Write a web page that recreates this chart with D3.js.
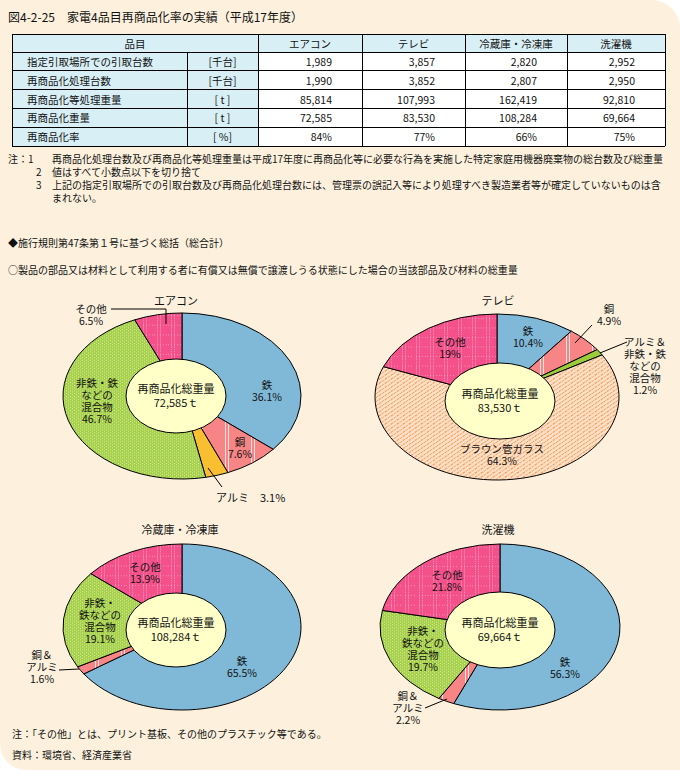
<!DOCTYPE html>
<html lang="ja">
<head>
<meta charset="utf-8">
<script src="https://cdn.jsdelivr.net/npm/d3@7/dist/d3.min.js"></script>
<style>
  html, body { margin: 0; padding: 0; background: #fff; }
  svg { display: block; font-family: "Noto Sans CJK JP", sans-serif; }
</style>
</head>
<body>
<div id="chart"></div>
<script>
// table
const tableCols = ["エアコン", "テレビ", "冷蔵庫・冷凍庫", "洗濯機"];
const tableRows = ["指定引取場所での引取台数", "再商品化処理台数", "再商品化等処理重量", "再商品化重量", "再商品化率"];
const tableUnits = ["[千台]", "[千台]", "[ t ]", "[ t ]", "[ %]"];
const tableValues = [
  [1989, 3857, 2820, 2952],
  [1990, 3852, 2807, 2950],
  [85814, 107993, 162419, 92810],
  [72585, 83530, 108284, 69664],
  [84, 77, 66, 75]
];

// donuts (share of 再商品化重量, %)
const airconParts = ["鉄", "銅", "アルミ", "非鉄・鉄\nなどの\n混合物", "その他"];
const airconShares = [36.1, 7.6, 3.1, 46.7, 6.5];
const tvParts = ["鉄", "銅", "アルミ＆\n非鉄・鉄\nなどの\n混合物", "ブラウン管ガラス", "その他"];
const tvShares = [10.4, 4.9, 1.2, 64.3, 19];
const fridgeParts = ["鉄", "銅＆\nアルミ", "非鉄・\n鉄などの\n混合物", "その他"];
const fridgeShares = [65.5, 1.6, 19.1, 13.9];
const washerParts = ["鉄", "銅＆\nアルミ", "非鉄・\n鉄などの\n混合物", "その他"];
const washerShares = [56.3, 2.2, 19.7, 21.8];
const totals = tableValues[3];

const notes = [
  ["注：1", "再商品化処理台数及び再商品化等処理重量は平成17年度に再商品化等に必要な行為を実施した特定家庭用機器廃棄物の総台数及び総重量"],
  ["2", "値はすべて小数点以下を切り捨て"],
  ["3", "上記の指定引取場所での引取台数及び再商品化処理台数には、管理票の誤記入等により処理すべき製造業者等が確定していないものは含"],
  ["", "まれない。"]
];

const W = 680, H = 770;
const cream = "#fdf1de";

const svg = d3.select("#chart").append("svg")
    .attr("width", W)
    .attr("height", H);

// panel with rounded top-right / bottom-left corners
svg.append("path")
    .attr("d", `M0,0 H652 A28,28 0 0 1 680,28 V${H} H26 A26,26 0 0 1 0,${H - 26} Z`)
    .attr("fill", cream);

const defs = svg.append("defs");

function pattern(id, w, h, base, draw) {
  const p = defs.append("pattern")
      .attr("id", id)
      .attr("patternUnits", "userSpaceOnUse")
      .attr("width", w)
      .attr("height", h);
  p.append("rect").attr("width", w).attr("height", h).attr("fill", base);
  draw(p);
}
const dot = (p, x, y, c) => p.append("rect").attr("x", x).attr("y", y).attr("width", 1).attr("height", 1).attr("fill", c);

pattern("pat-mix", 4, 4, "#a5d048", p => {
  dot(p, 0, 0, "#eef8d4");
  dot(p, 2, 2, "#eef8d4");
});
pattern("pat-other", 14, 14, "#f4508a", p => {
  for (let y = 0; y < 14; y += 3) { dot(p, 3, y, "#f9a8c6"); dot(p, 6, y, "#f9a8c6"); }
  for (let x = 0; x < 14; x += 3) dot(p, x, 10, "#f9a8c6");
});
pattern("pat-copper", 26, 4, "#f78585", p => {
  p.append("rect").attr("x", 17).attr("width", 1).attr("height", 4).attr("fill", "#fde2e2");
  p.append("rect").attr("x", 20).attr("width", 1).attr("height", 4).attr("fill", "#fde2e2");
});
pattern("pat-glass", 6, 6, "#fde2ca", p => {
  p.append("path").attr("d", "M-1,7 L7,-1").attr("stroke", "#f59a55").attr("stroke-width", 1.4)
      .attr("stroke-dasharray", "3,1");
});

const fills = {
  "鉄": "#80b8d8",
  "銅": "url(#pat-copper)",
  "アルミ": "#f8c030",
  "非鉄・鉄\nなどの\n混合物": "url(#pat-mix)",
  "非鉄・\n鉄などの\n混合物": "url(#pat-mix)",
  "アルミ＆\n非鉄・鉄\nなどの\n混合物": "#9ccc3c",
  "銅＆\nアルミ": "url(#pat-copper)",
  "ブラウン管ガラス": "url(#pat-glass)",
  "その他": "url(#pat-other)"
};

const txt = (sel, x, y, s, size, anchor) => sel.append("text")
    .attr("x", x).attr("y", y)
    .attr("font-size", size || 10)
    .attr("text-anchor", anchor || "start")
    .attr("dominant-baseline", "central")
    .attr("fill", "#111")
    .text(s);

// multi-line label as one text element
function block(sel, x, y, lines, size, lh) {
  const t = sel.append("text")
      .attr("x", x).attr("y", y)
      .attr("font-size", size)
      .attr("text-anchor", "middle")
      .attr("fill", "#111");
  lines.forEach((s, k) => t.append("tspan")
      .attr("x", x)
      .attr("dy", k === 0 ? "0.35em" : lh)
      .text(s));
  return t;
}

// title
txt(svg, 8, 16, "図4-2-25　家電4品目再商品化率の実績（平成17年度）", 12);

// ---- table
const colX = [12, 187, 258, 362, 465, 567, 665];
const rowY = d3.range(6).map(i => 52 + i * 18.8);
const headY = 34;
const tbl = svg.append("g");
const blue = "#d9eff6";

tbl.append("rect").attr("x", colX[0]).attr("y", headY).attr("width", colX[6] - colX[0]).attr("height", rowY[0] - headY).attr("fill", blue);
tbl.append("rect").attr("x", colX[0]).attr("y", rowY[0]).attr("width", colX[2] - colX[0]).attr("height", rowY[5] - rowY[0]).attr("fill", blue);
tbl.append("rect").attr("x", colX[2]).attr("y", rowY[0]).attr("width", colX[6] - colX[2]).attr("height", rowY[5] - rowY[0]).attr("fill", "#fff");

const ln = (x1, y1, x2, y2) => tbl.append("line")
    .attr("x1", x1).attr("y1", y1).attr("x2", x2).attr("y2", y2)
    .attr("stroke", "#000").attr("stroke-width", 1).attr("shape-rendering", "crispEdges");
[headY].concat(rowY).forEach(y => ln(colX[0], y, colX[6], y));
colX.forEach((x, i) => ln(x, i === 1 ? rowY[0] : headY, x, rowY[5]));

txt(tbl, (colX[0] + colX[2]) / 2, (headY + rowY[0]) / 2, "品目", 10.5, "middle");
tableCols.forEach((c, i) => txt(tbl, (colX[i + 2] + colX[i + 3]) / 2, (headY + rowY[0]) / 2, c, 10.5, "middle"));

const fmt = d3.format(",");
tableRows.forEach((r, j) => {
  const cy = (rowY[j] + rowY[j + 1]) / 2;
  txt(tbl, colX[0] + 15, cy, r, 10.5);
  txt(tbl, (colX[1] + colX[2]) / 2, cy, tableUnits[j], 10.5, "middle");
  tableValues[j].forEach((v, i) => {
    txt(tbl, colX[i + 3] - 30, cy, j === 4 ? v + "%" : fmt(v), 10.5, "end");
  });
});

// ---- notes
notes.forEach((n, i) => {
  const y = 158 + i * 13;
  if (i === 0) txt(svg, 8, y, n[0], 10);
  else txt(svg, 36, y, n[0], 10);
  txt(svg, 52, y, n[1], 10);
});
txt(svg, 8, 242, "◆施行規則第47条第１号に基づく総括（総合計）", 10);
txt(svg, 8, 269, "○製品の部品又は材料として利用する者に有償又は無償で譲渡しうる状態にした場合の当該部品及び材料の総重量", 10);

// ---- donuts
const pie = d3.pie().sort(null).value(d => d.value);

function donut(o) {
  const data = o.parts.map((p, i) => ({ name: p, value: o.shares[i] }));
  const g = svg.append("g");
  const arc = d3.arc().innerRadius(0).outerRadius(o.rx);
  g.append("g")
      .attr("transform", `translate(${o.cx},${o.cy}) scale(1,${o.ry / o.rx})`)
    .selectAll("path")
    .data(pie(data))
    .join("path")
      .attr("d", arc)
      .attr("fill", d => fills[d.data.name])
      .attr("stroke", "#000")
      .attr("stroke-width", 1)
      .attr("vector-effect", "non-scaling-stroke");

  g.append("ellipse")
      .attr("cx", o.icx).attr("cy", o.icy)
      .attr("rx", o.irx).attr("ry", o.iry)
      .attr("fill", "#ffffc8")
      .attr("stroke", "#000");
  block(g, o.icx, o.icy - 7, ["再商品化総重量", fmt(o.total) + "ｔ"], 11, 14.5);

  txt(g, o.title[0], o.title[1], o.name, 11, "middle");

  data.forEach((d, i) => {
    const L = o.labels[i];
    const pct = d.value + "%";
    if (L.inline) {
      txt(g, L.at[0], L.at[1], d.name + "　" + pct, 11, "start");
    } else {
      block(g, L.at[0], L.at[1], d.name.split("\n").concat([pct]), 10.5, 12);
    }
    if (L.leader) {
      g.append("polyline")
          .attr("points", L.leader.map(p => p.join(",")).join(" "))
          .attr("fill", "none")
          .attr("stroke", "#000")
          .attr("stroke-width", 1);
    }
  });
}

donut({
  name: "エアコン", parts: airconParts, shares: airconShares, total: totals[0],
  cx: 182, cy: 396, rx: 119, ry: 83, icx: 176, icy: 396, irx: 50, iry: 37,
  title: [176, 300],
  labels: [
    { at: [267, 385] },
    { at: [240, 442] },
    { at: [216, 497], inline: true, leader: [[208, 468], [222, 487]] },
    { at: [97, 383] },
    { at: [91, 309], leader: [[111, 309], [166, 309], [166, 324]] }
  ]
});

donut({
  name: "テレビ", parts: tvParts, shares: tvShares, total: totals[1],
  cx: 497, cy: 397, rx: 122, ry: 83, icx: 500, icy: 401, irx: 55, iry: 38,
  title: [498, 300],
  labels: [
    { at: [528, 331] },
    { at: [609, 309], leader: [[592, 325], [575, 343]] },
    { at: [645, 342], leader: [[627, 342], [600, 353]] },
    { at: [502, 449] },
    { at: [450, 342] }
  ]
});

donut({
  name: "冷蔵庫・冷凍庫", parts: fridgeParts, shares: fridgeShares, total: totals[2],
  cx: 182, cy: 627, rx: 119, ry: 83, icx: 176, icy: 630, irx: 50, iry: 37,
  title: [180, 529],
  labels: [
    { at: [242, 661] },
    { at: [42, 655], leader: [[59, 670], [79, 669]] },
    { at: [100, 603] },
    { at: [145, 567] }
  ]
});

donut({
  name: "洗濯機", parts: washerParts, shares: washerShares, total: totals[3],
  cx: 500, cy: 627, rx: 120, ry: 83, icx: 500, icy: 630, irx: 55, iry: 38,
  title: [498, 529],
  labels: [
    { at: [565, 662] },
    { at: [408, 696], leader: [[425, 708], [447, 699]] },
    { at: [423, 631] },
    { at: [447, 575] }
  ]
});

// footer
txt(svg, 12, 733, "注：「その他」とは、プリント基板、その他のプラスチック等である。", 10);
txt(svg, 12, 754, "資料：環境省、経済産業省", 10);
</script>
</body>
</html>
